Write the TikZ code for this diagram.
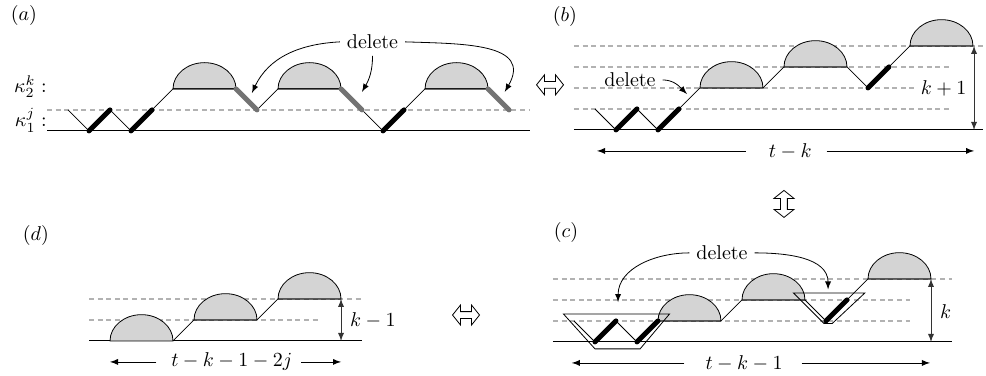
\documentclass[tikz,border=0pt]{standalone}
\usepackage{amsmath}
\usepackage{tikz}

% half-ellipse hump sitting on (#1,#2)
\newcommand{\hump}[2]{\draw[dome] (#1,#2) arc[start angle=180,end angle=0,x radius=1.5,y radius=1.25] -- cycle;}
% outlined two-headed block arrow at (#1,#2), turned by #3
\newcommand{\swapsign}[3]{\draw[line width=0.4pt,shift={(#1,#2)},rotate=#3] (-6.75pt,0) -- (-2.75pt,5pt) -- (-2.75pt,1.7pt)
	-- (2.75pt,1.7pt) -- (2.75pt,5pt) -- (6.75pt,0) -- (2.75pt,-5pt) -- (2.75pt,-1.7pt) -- (-2.75pt,-1.7pt) -- (-2.75pt,-5pt) -- cycle;}

\begin{document}
\begin{tikzpicture}[x=10.5pt,y=10.5pt,>=latex,
	base/.style={line width=0.5pt},
	walk/.style={line width=0.4pt},
	level/.style={black!30,line width=0.8pt,dash pattern=on 2.5pt off 1.8pt},
	heavy/.style={line width=2.5pt,line cap=round},
	grayheavy/.style={black!55,line width=2.5pt,line cap=round},
	dome/.style={fill=black!17,line width=0.4pt},
	hull/.style={line width=0.4pt},
	dimarrow/.style={<->,line width=0.4pt,black!80},
	pointer/.style={->,line width=0.4pt}]
	\useasboundingbox (0,0) rectangle (46.95,17.9);

	% panel labels and equivalences
	\node (la) at (1.14,17.14) {$(a)$};
	\node (lb) at (26.9,17.1) {$(b)$};
	\node (lc) at (26.95,6.81) {$(c)$};
	\node (ld) at (1.71,6.71) {$(d)$};
	\swapsign{26.19}{13.86}{0}
	\swapsign{37.33}{8.19}{90}
	\swapsign{22.19}{2.9}{0}

	% (a)
	\begin{scope}[shift={(2.238,11.667)}]
		\draw[level] (0,1) -- (23,1);
		\draw[base] (0,0) -- (23,0);
		\hump{6}{2} \hump{11}{2} \hump{18}{2}
		\draw[walk] (1,1) -- (2,0) -- (3,1) -- (4,0) -- (5,1) -- (6,2) -- (9,2) -- (10,1) -- (11,2) -- (14,2)
			-- (15,1) -- (16,0) -- (17,1) -- (18,2) -- (21,2) -- (22,1);
		\draw[heavy] (2,0) -- (3,1);
		\draw[heavy] (4,0) -- (5,1);
		\draw[heavy] (16,0) -- (17,1);
		\draw[grayheavy] (9,2) -- (10,1);
		\draw[grayheavy] (14,2) -- (15,1);
		\draw[grayheavy] (21,2) -- (22,1);
		\node[anchor=base east,inner sep=0pt] (kap2) at (0,1.81) {$\kappa_2^k:$};
		\node[anchor=base east,inner sep=0pt] (kap1) at (0,0.2) {$\kappa_1^j:$};
		\node (dela) at (15.5,4.24) {delete};
		\coordinate (ta1) at (9.76,1.81);
		\coordinate (ta2) at (15,1.86);
		\coordinate (ta3) at (21.8,1.86);
		\draw[pointer] (dela.west) to[out=183,in=65] (ta1);
		\draw[pointer] (dela.south) to[out=-90,in=60] (ta2);
		\draw[pointer] (dela.east) to[out=-2,in=60,looseness=1.3] (ta3);
	\end{scope}

	% (b)
	\begin{scope}[shift={(27.33,11.714)}]
		\foreach \y in {1,2,3} \draw[level] (0,\y) -- (18,\y);
		\draw[level] (0,4) -- (19.5,4);
		\draw[base] (0,0) -- (19.5,0);
		\hump{6}{2} \hump{10}{3} \hump{16}{4}
		\draw[walk] (1,1) -- (2,0) -- (3,1) -- (4,0) -- (5,1) -- (6,2) -- (9,2) -- (10,3) -- (13,3) -- (14,2)
			-- (15,3) -- (16,4) -- (19,4);
		\draw[heavy] (2,0) -- (3,1);
		\draw[heavy] (4,0) -- (5,1);
		\draw[heavy] (14,2) -- (15,3);
		\node[anchor=east,fill=white,inner sep=1.5pt] (hb) at (18.85,2) {$k+1$};
		\coordinate (btop) at (19.05,4);
		\coordinate (bbot) at (19.05,0);
		\draw[dimarrow] (btop) -- (bbot);
		\node (wb) at (10.3,-1) {$t-k$};
		\coordinate (wbl) at (1.1,-1);
		\coordinate (wbr) at (19.05,-1);
		\draw[->] ([xshift=-8pt]wb.west) -- (wbl);
		\draw[->] ([xshift=4pt]wb.east) -- (wbr);
		\node (delb) at (2.67,2.38) {delete};
		\coordinate (tb) at (5.38,1.71);
		\draw[pointer] (delb.east) to[out=0,in=135] (tb);
	\end{scope}

	% (c)
	\begin{scope}[shift={(26.33,1.619)}]
		\foreach \y in {1,2} \draw[level] (0,\y) -- (17,\y);
		\draw[level] (0,3) -- (19,3);
		\draw[base] (0,0) -- (19,0);
		\hump{5}{1} \hump{9}{2} \hump{15}{3}
		\draw[walk] (1,1) -- (2,0) -- (3,1) -- (4,0) -- (5,1) -- (8,1) -- (9,2) -- (12,2) -- (13,1) -- (14,2)
			-- (15,3) -- (18,3);
		\draw[heavy] (2,0) -- (3,1);
		\draw[heavy] (4,0) -- (5,1);
		\draw[heavy] (13,1) -- (14,2);
		\draw[hull] (0.5,1.33) -- (2,-0.33) -- (4.15,-0.33) -- (5.55,1.33) -- cycle;
		\draw[hull] (11.45,2.33) -- (12.9,0.88) -- (13.3,0.88) -- (14.85,2.33) -- cycle;
		\coordinate (ctop) at (18,3);
		\coordinate (cbot) at (18,0);
		\draw[dimarrow] (ctop) -- (cbot);
		\node[anchor=west] (hc) at (18.1,1.45) {$k$};
		\node (wc) at (9.1,-1) {$t-k-1$};
		\coordinate (wcl) at (0.9,-1);
		\coordinate (wcr) at (17.95,-1);
		\draw[->] ([xshift=-7pt]wc.west) -- (wcl);
		\draw[->] ([xshift=6pt]wc.east) -- (wcr);
		\node (delc) at (8.05,4.24) {delete};
		\coordinate (tc1) at (3.1,1.9);
		\coordinate (tc2) at (13.1,2.5);
		\draw[pointer] (delc.west) to[out=180,in=90] (tc1);
		\draw[pointer] (delc.east) to[out=0,in=90] (tc2);
	\end{scope}

	% (d)
	\begin{scope}[shift={(4.238,1.667)}]
		\draw[level] (0,1) -- (11,1);
		\draw[level] (0,2) -- (13,2);
		\draw[base] (0,0) -- (13,0);
		\hump{1}{0} \hump{5}{1} \hump{9}{2}
		\draw[walk] (4,0) -- (5,1) -- (8,1) -- (9,2) -- (12,2);
		\coordinate (dtop) at (12,2);
		\coordinate (dbot) at (12,0);
		\draw[dimarrow] (dtop) -- (dbot);
		\node[anchor=west] (hd) at (12.1,1) {$k-1$};
		\node (wd) at (6.8,-1) {$t-k-1-2j$};
		\coordinate (wdl) at (1,-1);
		\coordinate (wdr) at (12,-1);
		\draw[->] ([xshift=-4pt]wd.west) -- (wdl);
		\draw[->] ([xshift=1pt]wd.east) -- (wdr);
	\end{scope}
\end{tikzpicture}
\end{document}
